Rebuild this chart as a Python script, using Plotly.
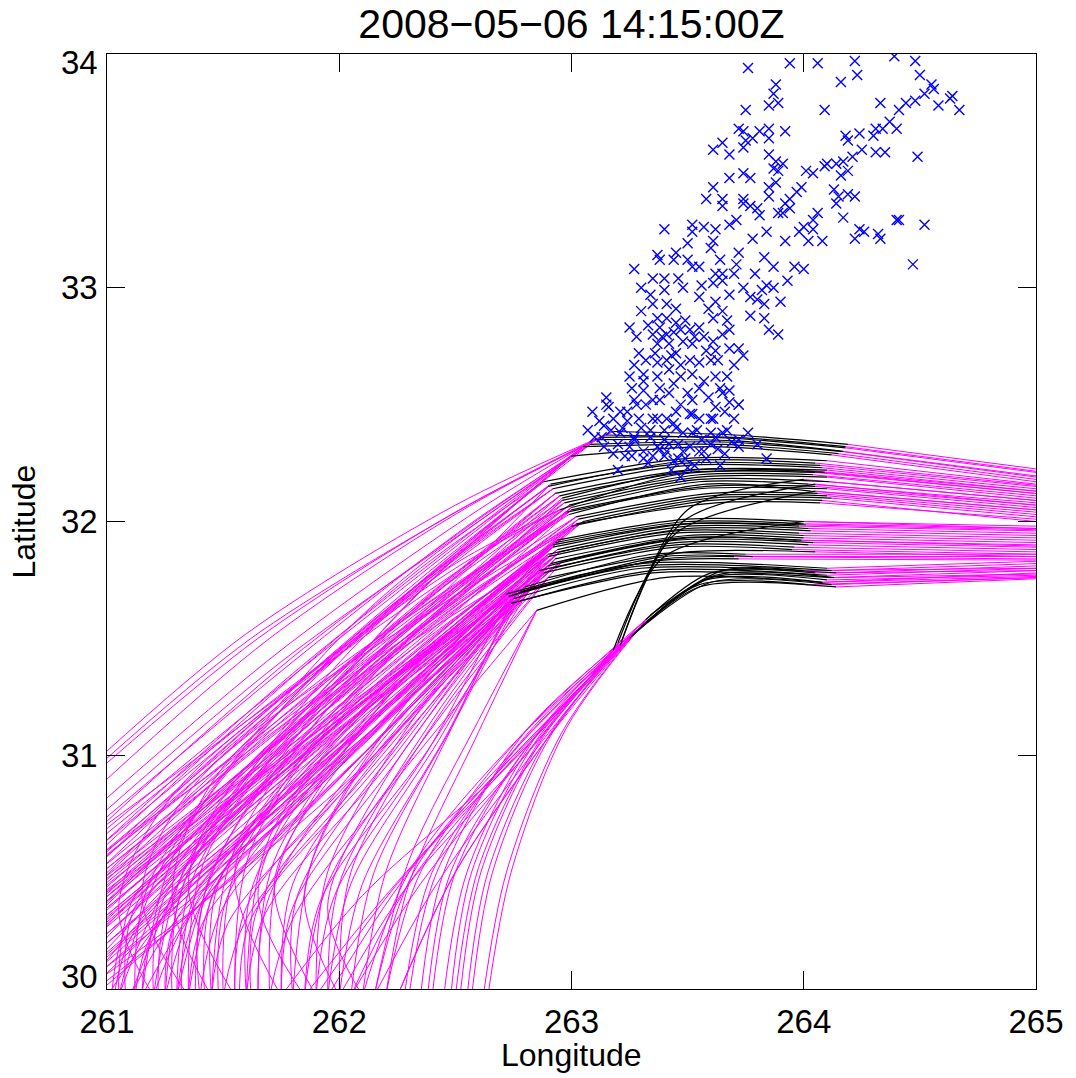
import plotly.graph_objects as go

title_text = "2008\u221205\u221206 14:15:00Z"
x_ticks = [261, 262, 263, 264, 265]
y_ticks = [30, 31, 32, 33, 34]

# Core part of each trajectory: black start, black middle, black end, exit at right edge
core_names = ["A1", "A2", "A3", "A4", "A5", "A6", "A7",
              "B1", "B2", "B3", "B4", "B5", "B6", "B7", "B8", "B9", "B10",
              "B11", "B12", "B13", "B14", "B15", "B16", "B17", "B18", "B19", "B20",
              "C1", "C2", "C3", "C4", "C5", "C6", "C7", "C8",
              "C9", "C10", "C11", "C12", "C13", "C14", "C15", "C16",
              "D1", "D2", "D3", "D4", "D5", "D6", "D7", "D8", "D9", "D10",
              "E1", "E2", "E3", "E4", "E5", "E6", "E7", "E8",
              "S1", "S2", "S3", "S4"]
core_lon = [
    [263.18, 263.70, 264.19, 265.0], [263.15, 263.70, 264.18, 265.0], [263.10, 263.70, 264.17, 265.0],
    [263.05, 263.65, 264.15, 265.0], [263.00, 263.60, 264.12, 265.0], [263.12, 263.70, 264.18, 265.0],
    [263.08, 263.65, 264.16, 265.0],
    [262.88, 263.50, 264.10, 265.0], [262.92, 263.50, 264.08, 265.0], [262.95, 263.50, 264.05, 265.0],
    [262.97, 263.55, 264.10, 265.0], [263.00, 263.55, 264.02, 265.0], [262.98, 263.55, 264.10, 265.0],
    [263.02, 263.60, 264.06, 265.0], [263.05, 263.60, 264.12, 265.0], [263.00, 263.60, 264.08, 265.0],
    [262.95, 263.45, 264.00, 265.0],
    [262.90, 263.50, 264.05, 265.0], [262.93, 263.50, 264.10, 265.0], [262.96, 263.55, 264.04, 265.0],
    [262.99, 263.55, 264.11, 265.0], [263.00, 263.58, 264.05, 265.0], [263.03, 263.60, 264.10, 265.0],
    [263.02, 263.62, 264.07, 265.0], [262.91, 263.50, 264.07, 265.0], [262.96, 263.52, 264.09, 265.0],
    [262.99, 263.58, 264.03, 265.0],
    [262.94, 263.50, 264.00, 265.0], [262.92, 263.50, 263.98, 265.0], [262.95, 263.50, 264.03, 265.0],
    [262.90, 263.45, 264.00, 265.0], [262.96, 263.50, 263.97, 265.0], [262.92, 263.45, 264.02, 265.0],
    [262.88, 263.45, 263.95, 265.0], [262.90, 263.50, 264.05, 265.0],
    [262.93, 263.50, 264.00, 265.0], [262.94, 263.50, 264.02, 265.0], [262.90, 263.45, 263.98, 265.0],
    [262.93, 263.50, 264.00, 265.0], [262.90, 263.45, 264.04, 265.0], [262.86, 263.45, 263.96, 265.0],
    [262.92, 263.48, 264.01, 265.0], [262.91, 263.47, 263.99, 265.0],
    [262.72, 263.30, 264.10, 265.0], [262.75, 263.30, 264.14, 265.0], [262.78, 263.40, 263.70, 265.0],
    [262.80, 263.35, 263.75, 265.0], [262.74, 263.35, 264.12, 265.0], [262.85, 263.40, 264.08, 265.0],
    [262.73, 263.30, 264.12, 265.0], [262.76, 263.35, 263.72, 265.0], [262.78, 263.35, 264.10, 265.0],
    [262.82, 263.40, 263.78, 265.0],
    [263.30, 263.60, 264.10, 265.0], [263.27, 263.60, 264.12, 265.0], [263.32, 263.60, 264.05, 265.0],
    [263.25, 263.55, 264.14, 265.0], [263.34, 263.65, 264.00, 265.0], [263.28, 263.58, 264.08, 265.0],
    [263.31, 263.62, 264.13, 265.0], [263.26, 263.55, 264.02, 265.0],
    [263.20, 263.45, 264.05, 265.0], [263.22, 263.50, 264.00, 265.0], [263.18, 263.40, 264.00, 265.0],
    [263.21, 263.48, 264.05, 265.0],
]
core_lat = [
    [32.385, 32.37, 32.33, 32.225], [32.37, 32.355, 32.315, 32.21], [32.35, 32.345, 32.30, 32.195],
    [32.32, 32.33, 32.29, 32.18], [32.28, 32.32, 32.285, 32.17], [32.36, 32.36, 32.32, 32.215],
    [32.33, 32.34, 32.30, 32.19],
    [32.17, 32.27, 32.26, 32.16], [32.14, 32.24, 32.23, 32.14], [32.11, 32.21, 32.21, 32.12],
    [32.08, 32.19, 32.19, 32.10], [32.06, 32.17, 32.16, 32.08], [32.04, 32.14, 32.14, 32.06],
    [32.02, 32.12, 32.12, 32.04], [32.00, 32.10, 32.10, 32.02], [31.98, 32.09, 32.09, 32.00],
    [32.05, 32.20, 32.22, 32.13],
    [32.15, 32.26, 32.25, 32.155], [32.12, 32.22, 32.22, 32.13], [32.09, 32.20, 32.20, 32.11],
    [32.07, 32.18, 32.17, 32.09], [32.05, 32.15, 32.15, 32.07], [32.01, 32.11, 32.11, 32.03],
    [31.99, 32.08, 32.08, 32.01], [32.16, 32.25, 32.24, 32.15], [32.10, 32.22, 32.21, 32.12],
    [32.03, 32.16, 32.13, 32.05],
    [31.92, 32.01, 32.00, 31.98], [31.89, 31.99, 31.98, 31.96], [31.87, 31.97, 31.96, 31.94],
    [31.85, 31.95, 31.94, 31.92], [31.83, 31.93, 31.92, 31.90], [31.80, 31.91, 31.90, 31.88],
    [31.78, 31.89, 31.88, 31.86], [31.76, 31.87, 31.87, 31.85],
    [31.91, 32.00, 31.99, 31.97], [31.88, 31.98, 31.97, 31.95], [31.86, 31.96, 31.95, 31.93],
    [31.84, 31.94, 31.93, 31.91], [31.81, 31.92, 31.91, 31.89], [31.79, 31.90, 31.89, 31.87],
    [31.90, 31.99, 31.985, 31.965], [31.82, 31.93, 31.92, 31.895],
    [31.69, 31.82, 31.80, 31.83], [31.67, 31.80, 31.78, 31.81], [31.70, 31.84, 31.85, 31.84],
    [31.72, 31.86, 31.86, 31.86], [31.65, 31.78, 31.76, 31.79], [31.62, 31.76, 31.74, 31.78],
    [31.68, 31.81, 31.79, 31.82], [31.69, 31.83, 31.84, 31.835], [31.66, 31.79, 31.77, 31.80],
    [31.71, 31.85, 31.85, 31.85],
    [31.55, 31.76, 31.75, 31.77], [31.52, 31.74, 31.73, 31.76], [31.58, 31.78, 31.78, 31.79],
    [31.50, 31.72, 31.72, 31.755], [31.60, 31.79, 31.79, 31.80], [31.53, 31.75, 31.74, 31.765],
    [31.56, 31.77, 31.76, 31.775], [31.51, 31.73, 31.73, 31.76],
    [31.48, 31.95, 32.13, 32.05], [31.50, 32.05, 32.18, 32.09], [31.45, 31.85, 32.00, 31.97],
    [31.47, 32.00, 32.16, 32.07],
]

# Western (earlier) part of each trajectory: entry, two intermediate points; joins its core
left_core = [
    "A1", "A1", "A2", "A3", "A3", "A4", "A4", "A5", "A5", "A6", "A6", "A7", "A7",
    "B1", "B1", "B2", "B2", "B3", "B3", "B4", "B4", "B5", "B5",
    "B6", "B6", "B7", "B7", "B8", "B8", "B9", "B9", "B10", "B10",
    "B11", "B11", "B12", "B12", "B13", "B13", "B14", "B14", "B15", "B15",
    "B16", "B16", "B17", "B17",
    "C1", "C1", "C1", "C2", "C2", "C2", "C3", "C3", "C3", "C4", "C4",
    "C5", "C5", "C6", "C6", "C7", "C7", "C8", "C8",
    "C9", "C9", "C10", "C10", "C11", "C11", "C12", "C12", "C13", "C13", "C14", "C14",
    "D1", "D1", "D2", "D2", "D3", "D3", "D4", "D4", "D5", "D5", "D6", "D6",
    "D7", "D7", "D8", "D8", "D9", "D9", "D10", "D10",
    "E1", "E1", "E1", "E2", "E2", "E2", "E3", "E3", "E3", "E4", "E4", "E5", "E5",
    "E6", "E6", "E7", "E7", "E8", "E8",
    "S1", "S2", "S3", "S4",
    "C4", "C6", "B9", "D3", "B13", "C12",
    "B1", "B3", "B5", "B7", "B11", "B12", "B14", "C1", "C3", "C9", "C10", "C13",
    "A5", "A7", "B10",
    "B2", "B6", "B8", "C2", "C5", "C7", "C8", "C11", "C14", "D1", "D5", "D9", "D2", "D6",
    "C4", "D7", "D4", "C6",
    "B15", "C9", "D10",
    "E4", "S2", "E8",
    "B18", "B19", "B20", "C15", "C16",
]
left_lon = [
    # A
    [260.98, 261.60, 262.50], [260.98, 261.65, 262.50], [260.98, 261.70, 262.55],
    [260.98, 261.75, 262.60], [260.98, 261.80, 262.60], [260.98, 261.80, 262.60],
    [260.98, 261.60, 262.40], [260.98, 261.85, 262.55], [261.30, 261.50, 262.20],
    [260.98, 261.62, 262.52], [260.98, 261.90, 262.60], [260.98, 261.75, 262.60],
    [261.15, 261.30, 262.10],
    # B1-B10
    [260.98, 261.70, 262.35], [260.98, 261.65, 262.30], [260.98, 261.70, 262.40],
    [261.05, 261.25, 262.00], [260.98, 261.70, 262.40], [260.98, 261.60, 262.30],
    [260.98, 261.75, 262.45], [261.20, 261.35, 262.05], [260.98, 261.75, 262.45],
    [260.98, 261.60, 262.30], [260.98, 261.80, 262.50], [261.45, 261.55, 262.15],
    [260.98, 261.70, 262.45], [260.98, 261.90, 262.55], [260.98, 261.75, 262.50],
    [261.60, 261.70, 262.30], [260.98, 261.80, 262.50], [261.10, 261.45, 262.25],
    [260.98, 261.80, 262.50], [260.98, 261.55, 262.25],
    # B11-B17
    [260.98, 261.75, 262.40], [261.25, 261.35, 262.05], [260.98, 261.70, 262.40],
    [261.35, 261.42, 262.10], [260.98, 261.75, 262.45], [260.98, 261.50, 262.25],
    [260.98, 261.70, 262.40], [261.55, 261.62, 262.20], [260.98, 261.75, 262.45],
    [261.05, 261.35, 262.20], [260.98, 261.80, 262.50], [260.98, 261.85, 262.55],
    [260.98, 261.75, 262.50], [261.65, 261.72, 262.30],
    # C1-C8
    [260.98, 261.70, 262.40], [261.50, 261.55, 262.10], [260.98, 261.50, 262.20],
    [260.98, 261.70, 262.40], [261.70, 261.75, 262.25], [261.25, 261.40, 262.00],
    [260.98, 261.70, 262.45], [261.80, 261.90, 262.35], [261.35, 261.50, 262.10],
    [260.98, 261.60, 262.30], [261.90, 261.95, 262.35],
    [261.00, 261.40, 262.20], [262.00, 262.05, 262.45], [261.15, 261.45, 262.20],
    [261.65, 261.70, 262.20], [261.75, 261.80, 262.25], [260.98, 261.50, 262.20],
    [261.55, 261.60, 262.15], [261.85, 261.95, 262.35],
    # C9-C14
    [260.98, 261.70, 262.40], [261.45, 261.48, 262.05], [260.98, 261.70, 262.42],
    [261.60, 261.63, 262.15], [260.98, 261.65, 262.35], [261.20, 261.25, 261.90],
    [260.98, 261.60, 262.30], [261.95, 262.00, 262.40], [261.05, 261.12, 261.85],
    [261.80, 261.82, 262.30], [261.40, 261.42, 262.00], [260.98, 261.45, 262.15],
    # D
    [260.98, 261.60, 262.20], [261.30, 261.40, 262.00], [261.40, 261.50, 262.05],
    [262.10, 262.20, 262.50], [261.95, 262.05, 262.45], [261.10, 261.30, 261.95],
    [261.20, 261.35, 262.00], [262.05, 262.15, 262.50], [261.50, 261.60, 262.10],
    [260.98, 261.45, 262.10], [262.15, 262.30, 262.60], [261.70, 261.80, 262.25],
    [261.25, 261.30, 261.95], [261.90, 261.98, 262.40], [261.60, 261.68, 262.20],
    [262.00, 262.10, 262.48], [261.45, 261.52, 262.05], [261.15, 261.22, 261.90],
    [261.85, 261.92, 262.38], [261.35, 261.42, 262.00],
    # E
    [262.57, 262.66, 262.92], [262.35, 262.45, 262.80], [262.10, 262.30, 262.75],
    [262.52, 262.61, 262.88], [262.28, 262.40, 262.78], [261.95, 262.30, 262.80],
    [262.62, 262.72, 262.96], [262.45, 262.55, 262.86], [262.20, 262.35, 262.78],
    [262.40, 262.50, 262.82], [261.85, 262.20, 262.75],
    [262.64, 262.74, 262.98], [262.50, 262.60, 262.90],
    [262.55, 262.64, 262.90], [262.15, 262.32, 262.78], [262.48, 262.57, 262.86],
    [262.30, 262.42, 262.80], [262.38, 262.48, 262.82], [262.05, 262.30, 262.78],
    # S
    [262.00, 262.30, 262.82], [262.25, 262.50, 262.88], [261.75, 262.10, 262.75],
    [262.15, 262.42, 262.85],
    # hooked paths from the south
    [261.55, 261.35, 261.60], [261.75, 261.55, 261.85], [261.35, 261.15, 261.40],
    [261.90, 261.72, 262.00], [261.20, 261.05, 261.30], [262.00, 261.85, 262.10],
    # additional paths
    [260.98, 261.72, 262.38], [260.98, 261.72, 262.42], [260.98, 261.80, 262.50],
    [260.98, 261.78, 262.48], [260.98, 261.65, 262.35], [260.98, 261.80, 262.45],
    [260.98, 261.75, 262.42], [260.98, 261.75, 262.45], [260.98, 261.70, 262.42],
    [260.98, 261.80, 262.50], [260.98, 261.75, 262.45], [260.98, 261.70, 262.40],
    [260.98, 261.85, 262.55], [260.98, 261.80, 262.55], [260.98, 261.85, 262.50],
    [261.12, 261.18, 261.90], [261.28, 261.33, 262.00], [261.38, 261.45, 262.10],
    [261.08, 261.12, 261.80], [261.22, 261.28, 261.95], [261.32, 261.38, 262.00],
    [261.02, 261.10, 261.80], [261.48, 261.52, 262.05], [261.62, 261.65, 262.15],
    [261.12, 261.20, 261.85], [261.03, 261.12, 261.80], [261.57, 261.62, 262.12],
    [261.75, 261.80, 262.25], [262.20, 262.30, 262.60],
    [260.98, 261.55, 262.30], [260.98, 261.55, 262.20], [260.98, 261.50, 262.15],
    [260.98, 261.55, 262.25],
    [261.45, 261.28, 261.50], [261.85, 261.65, 261.90], [262.10, 261.95, 262.20],
    [261.90, 262.25, 262.75], [262.05, 262.35, 262.80], [262.25, 262.50, 262.88],
    [260.98, 261.70, 262.38], [260.98, 261.72, 262.42], [261.30, 261.38, 262.08],
    [260.98, 261.72, 262.42], [261.42, 261.46, 262.02],
]
left_lat = [
    # A
    [31.00, 31.52, 32.07], [30.95, 31.50, 32.04], [30.88, 31.50, 32.06],
    [30.80, 31.45, 32.05], [30.70, 31.42, 32.01], [30.62, 31.35, 31.98],
    [30.25, 30.90, 31.75], [30.55, 31.30, 31.90], [29.97, 30.60, 31.55],
    [30.97, 31.50, 32.05], [30.58, 31.35, 31.95], [30.75, 31.40, 32.00],
    [29.97, 30.60, 31.60],
    # B1-B10
    [30.60, 31.25, 31.80], [30.48, 31.10, 31.70], [30.52, 31.18, 31.75],
    [29.97, 30.55, 31.45], [30.45, 31.10, 31.70], [30.35, 30.95, 31.60],
    [30.42, 31.08, 31.66], [29.97, 30.55, 31.40], [30.38, 31.03, 31.62],
    [30.15, 30.80, 31.50], [30.50, 31.15, 31.70], [29.97, 30.60, 31.42],
    [30.32, 30.95, 31.58], [30.58, 31.25, 31.72], [30.28, 30.95, 31.55],
    [29.97, 30.65, 31.40], [30.40, 31.02, 31.58], [29.97, 30.70, 31.45],
    [30.65, 31.30, 31.80], [30.20, 30.80, 31.52],
    # B11-B17
    [30.62, 31.25, 31.78], [29.97, 30.50, 31.45], [30.47, 31.12, 31.69],
    [29.97, 30.55, 31.42], [30.44, 31.07, 31.64], [30.10, 30.70, 31.45],
    [30.36, 31.00, 31.60], [29.97, 30.60, 31.40], [30.33, 30.98, 31.57],
    [29.97, 30.60, 31.42], [30.30, 30.98, 31.55], [30.52, 31.20, 31.68],
    [30.26, 30.92, 31.50], [29.97, 30.55, 31.35],
    # C1-C8
    [30.30, 30.90, 31.50], [29.97, 30.50, 31.30], [30.05, 30.55, 31.30],
    [30.25, 30.85, 31.45], [29.97, 30.55, 31.30], [29.97, 30.40, 31.10],
    [30.18, 30.80, 31.42], [29.97, 30.60, 31.30], [29.97, 30.50, 31.15],
    [30.10, 30.65, 31.30], [29.97, 30.50, 31.20],
    [29.97, 30.50, 31.20], [29.97, 30.50, 31.20], [29.97, 30.45, 31.15],
    [29.97, 30.40, 31.10], [29.97, 30.45, 31.10], [30.00, 30.45, 31.10],
    [29.97, 30.35, 31.00], [29.97, 30.45, 31.05],
    # C9-C14
    [30.27, 30.88, 31.48], [29.97, 30.45, 31.20], [30.22, 30.83, 31.43],
    [29.97, 30.45, 31.20], [30.14, 30.72, 31.35], [29.97, 30.40, 31.05],
    [30.08, 30.62, 31.25], [29.97, 30.45, 31.15], [29.97, 30.40, 31.00],
    [29.97, 30.40, 31.10], [29.97, 30.38, 31.00], [30.02, 30.40, 31.05],
    # D
    [30.12, 30.65, 31.20], [29.97, 30.35, 30.95], [29.97, 30.35, 30.95],
    [29.97, 30.50, 31.15], [29.97, 30.45, 31.10], [29.97, 30.30, 30.90],
    [29.97, 30.30, 30.95], [29.97, 30.50, 31.15], [29.97, 30.30, 30.90],
    [30.05, 30.40, 30.95], [29.97, 30.55, 31.15], [29.97, 30.30, 30.90],
    [29.97, 30.30, 30.92], [29.97, 30.40, 31.05], [29.97, 30.32, 30.95],
    [29.97, 30.45, 31.12], [29.97, 30.28, 30.88], [29.97, 30.30, 30.90],
    [29.97, 30.38, 31.02], [29.97, 30.30, 30.90],
    # E
    [29.97, 30.50, 31.10], [29.97, 30.50, 31.10], [29.97, 30.50, 31.05],
    [29.97, 30.50, 31.08], [29.97, 30.50, 31.05], [29.97, 30.50, 31.05],
    [29.97, 30.50, 31.10], [29.97, 30.50, 31.10], [29.97, 30.50, 31.08],
    [29.97, 30.50, 31.05], [29.97, 30.40, 31.00],
    [29.97, 30.50, 31.12], [29.97, 30.52, 31.12],
    [29.97, 30.50, 31.08], [29.97, 30.50, 31.05], [29.97, 30.50, 31.08],
    [29.97, 30.50, 31.08], [29.97, 30.50, 31.05], [29.97, 30.45, 31.02],
    # S
    [29.97, 30.45, 31.02], [29.97, 30.50, 31.05], [29.97, 30.40, 30.98],
    [29.97, 30.45, 31.03],
    # hooked paths from the south
    [29.97, 30.45, 30.95], [29.97, 30.50, 31.00], [29.97, 30.40, 30.90],
    [29.97, 30.45, 30.95], [29.97, 30.35, 30.85], [29.97, 30.40, 30.95],
    # additional paths
    [30.57, 31.22, 31.78], [30.40, 31.05, 31.65], [30.47, 31.10, 31.66],
    [30.43, 31.06, 31.62], [30.34, 30.98, 31.60], [30.56, 31.20, 31.72],
    [30.50, 31.12, 31.66], [30.38, 30.98, 31.52], [30.33, 30.92, 31.47],
    [30.46, 31.05, 31.55], [30.41, 30.99, 31.50], [30.36, 30.93, 31.45],
    [30.67, 31.38, 31.93], [30.72, 31.40, 31.98], [30.69, 31.33, 31.82],
    [29.97, 30.45, 31.35], [29.97, 30.45, 31.35], [29.97, 30.50, 31.35],
    [29.97, 30.35, 31.05], [29.97, 30.40, 31.10], [29.97, 30.40, 31.05],
    [29.97, 30.30, 30.95], [29.97, 30.40, 31.05], [29.97, 30.35, 31.00],
    [29.97, 30.25, 30.88], [29.97, 30.25, 30.85], [29.97, 30.30, 30.90],
    [29.97, 30.35, 30.98], [29.97, 30.45, 31.10],
    [30.22, 30.72, 31.35], [30.18, 30.65, 31.20], [30.08, 30.50, 31.10],
    [30.13, 30.62, 31.20],
    [29.97, 30.40, 30.95], [29.97, 30.40, 30.95], [29.97, 30.35, 30.90],
    [29.97, 30.45, 30.98], [29.97, 30.45, 31.00], [29.97, 30.50, 31.05],
    [30.55, 31.20, 31.76], [30.39, 31.04, 31.64], [29.97, 30.50, 31.40],
    [30.29, 30.90, 31.48], [29.97, 30.42, 31.10],
]

# Storm observations (blue crosses)
obs_lon = [
    263.76, 263.94, 264.06, 264.22, 264.39, 264.48, 264.23, 264.50, 264.16, 263.88,
    263.87, 263.85, 263.89, 263.75, 264.09, 264.33, 264.55, 264.56, 264.52, 264.48,
    264.44, 264.41, 264.58, 264.64, 264.67, 264.63, 264.40, 264.37, 264.31, 264.34,
    264.30, 264.24, 264.18, 264.19, 264.49, 264.31, 264.35, 264.25, 264.21, 264.17,
    264.14, 264.10, 264.09, 264.16, 264.19, 264.04, 264.01, 263.99, 263.97, 263.94,
    263.92, 263.91, 263.89, 263.85, 263.94, 264.13, 264.15, 264.19, 264.22, 264.14,
    264.17, 264.06, 264.04, 264.00, 263.98, 264.02, 264.08, 264.04, 263.92, 263.84,
    263.81, 263.77, 263.74, 263.74, 263.80, 263.85, 263.88, 263.87, 263.89, 263.88,
    263.85, 263.91, 263.77, 263.74, 263.68, 263.61, 263.58, 263.65, 263.65, 263.74,
    263.72, 263.81, 263.85, 263.85, 263.92, 263.78, 263.75, 263.74, 263.68, 263.65,
    263.61, 264.24, 264.22, 264.26, 264.32, 264.33, 264.41, 264.52, 264.47, 264.40,
    263.71, 263.68, 263.62, 263.57, 263.52, 263.52, 263.40, 263.61, 263.60, 263.50,
    263.45, 263.44, 263.37, 263.38, 263.50, 263.52, 263.55, 263.27, 263.35, 263.40,
    263.46, 263.48, 263.40, 263.64, 263.72, 263.78, 263.83, 263.87, 263.96, 264.00,
    263.65, 263.70, 263.61, 263.65, 263.68, 263.62, 263.55, 263.74, 263.77, 263.80,
    263.84, 263.87, 263.83, 263.90, 263.77, 263.83, 263.85, 263.89, 263.30, 263.35,
    263.41, 263.45, 263.59, 263.61, 263.65, 263.67, 263.68, 263.37, 263.41, 263.45,
    263.38, 263.35, 263.41, 263.47, 263.51, 263.55, 263.57, 263.61, 263.65, 263.28,
    263.29, 263.37, 263.42, 263.48, 263.52, 263.62, 263.68, 263.72, 263.70, 263.74,
    263.27, 263.32, 263.37, 263.41, 263.45, 263.51, 263.55, 263.60, 263.25, 263.31,
    263.37, 263.42, 263.47, 263.52, 263.57, 263.26, 263.31, 263.38, 263.42, 263.62,
    263.67, 263.64, 263.68, 263.65, 263.50, 263.52, 263.47, 263.62, 263.72, 263.15,
    263.16, 263.21, 263.27, 263.32, 263.38, 263.12, 263.18, 263.24, 263.29, 263.35,
    263.41, 263.45, 263.52, 263.61, 263.07, 263.17, 263.21, 263.27, 263.34, 263.40,
    263.45, 263.48, 263.54, 263.60, 263.65, 263.72, 263.20, 263.25, 263.31, 263.37,
    263.42, 263.51, 263.55, 263.18, 263.84, 263.15, 263.20, 263.28, 263.31, 263.37,
    263.41, 263.44, 263.47, 263.50, 263.52, 263.57, 263.60, 263.62, 263.64, 263.67,
    263.68, 263.72, 263.72, 263.60, 263.51, 263.44, 263.22, 263.27, 263.34, 263.40,
    263.48, 263.13, 263.23, 263.35, 263.46, 263.56, 263.66, 263.30, 263.55, 263.09,
    263.14, 263.33, 263.39, 263.44, 263.49, 263.53, 263.43, 263.47, 263.36, 263.58,
    263.63, 263.31, 263.44, 263.55, 263.35, 263.59, 263.66, 263.70, 263.24, 263.14,
    263.10, 263.38, 263.46, 263.53, 263.58, 263.43, 263.49, 263.63, 263.69, 263.76,
    263.80, 263.26, 263.33, 263.40, 263.30, 263.34, 263.25, 263.56, 263.62, 263.71,
    263.79, 263.82, 263.93,
]
obs_lat = [
    33.94, 33.96, 33.96, 33.97, 33.99, 33.97, 33.91, 33.91, 33.88, 33.87,
    33.83, 33.78, 33.79, 33.76, 33.76, 33.79, 33.87, 33.85, 33.83, 33.80,
    33.79, 33.76, 33.78, 33.82, 33.76, 33.81, 33.68, 33.71, 33.68, 33.68,
    33.65, 33.66, 33.65, 33.63, 33.56, 33.58, 33.58, 33.59, 33.56, 33.54,
    33.53, 33.53, 33.52, 33.48, 33.50, 33.49, 33.50, 33.43, 33.41, 33.38,
    33.36, 33.32, 33.32, 33.39, 33.34, 33.42, 33.39, 33.40, 33.39, 33.36,
    33.30, 33.32, 33.29, 33.26, 33.24, 33.20, 33.20, 33.25, 33.20, 33.24,
    33.31, 33.35, 33.38, 33.36, 33.34, 33.43, 33.45, 33.51, 33.50, 33.54,
    33.57, 33.53, 33.47, 33.49, 33.47, 33.43, 33.38, 33.38, 33.35, 33.67,
    33.68, 33.67, 33.68, 33.64, 33.67, 33.64, 33.63, 33.60, 33.57, 33.62,
    33.59, 33.25, 33.21, 33.24, 33.23, 33.21, 33.29, 33.27, 33.10, 33.29,
    33.29, 33.27, 33.25, 33.26, 33.24, 33.27, 33.25, 33.20, 33.17, 33.19,
    33.15, 33.12, 33.14, 33.12, 33.12, 33.09, 33.09, 33.08, 33.04, 33.04,
    33.04, 33.00, 32.99, 33.12, 33.15, 33.21, 33.13, 33.09, 33.09, 33.08,
    33.06, 33.06, 33.02, 33.03, 32.97, 32.94, 32.96, 33.00, 32.96, 32.95,
    33.01, 33.00, 32.93, 32.94, 32.88, 32.87, 32.82, 32.80, 32.90, 32.93,
    32.93, 32.91, 32.91, 32.87, 32.90, 32.86, 32.82, 32.87, 32.87, 32.85,
    32.83, 32.80, 32.80, 32.82, 32.82, 32.83, 32.79, 32.77, 32.80, 32.79,
    32.72, 32.76, 32.76, 32.77, 32.76, 32.73, 32.74, 32.74, 32.67, 32.71,
    32.67, 32.69, 32.68, 32.69, 32.72, 32.69, 32.68, 32.69, 32.62, 32.63,
    32.62, 32.65, 32.62, 32.63, 32.60, 32.57, 32.56, 32.57, 32.55, 32.62,
    32.62, 32.57, 32.56, 32.55, 32.55, 32.52, 32.50, 32.49, 32.50, 32.53,
    32.49, 32.47, 32.52, 32.50, 32.52, 32.43, 32.44, 32.43, 32.44, 32.44,
    32.44, 32.47, 32.46, 32.44, 32.39, 32.39, 32.38, 32.36, 32.39, 32.39,
    32.40, 32.38, 32.39, 32.38, 32.38, 32.35, 32.33, 32.32, 32.30, 32.32,
    32.33, 32.32, 32.30, 32.29, 32.27, 32.50, 32.22, 32.50, 32.27, 32.44,
    32.30, 32.26, 32.19, 32.23, 32.38, 32.30, 32.33, 32.36, 32.24, 32.39,
    32.51, 32.50, 32.32, 32.44, 32.46, 32.42, 32.40, 32.35, 32.36, 32.35,
    32.30, 32.36, 32.28, 32.28, 32.33, 32.35, 32.29, 32.40, 32.44, 32.47,
    32.32, 32.84, 32.79, 32.81, 32.86, 32.79, 32.71, 32.67, 32.72, 32.73,
    32.69, 32.60, 32.59, 32.57, 32.52, 32.53, 32.47, 32.44, 32.47, 32.41,
    32.36, 32.31, 32.27, 32.24, 32.27, 32.22, 32.27, 32.31, 32.34, 32.38,
    32.33, 32.28, 32.25, 32.28, 33.00, 32.97, 32.83, 33.01, 33.06, 33.10,
    33.06, 32.99, 33.03,
]

MAGENTA = "#FF00FF"

core_index = {name: i for i, name in enumerate(core_names)}

mag_x, mag_y, blk_x, blk_y = [], [], [], []
for name, lons, lats in zip(left_core, left_lon, left_lat):
    c = core_index[name]
    mag_x += lons + [core_lon[c][0], None]
    mag_y += lats + [core_lat[c][0], None]
for lons, lats in zip(core_lon, core_lat):
    mag_x += [lons[2], lons[3], None]
    mag_y += [lats[2], lats[3], None]
    blk_x += lons[0:3] + [None]
    blk_y += lats[0:3] + [None]

fig = go.Figure()
fig.add_trace(go.Scatter(x=mag_x, y=mag_y, mode="lines",
                         line=dict(color=MAGENTA, width=1, shape="spline", smoothing=0.9),
                         connectgaps=False, hoverinfo="skip", showlegend=False))
fig.add_trace(go.Scatter(x=blk_x, y=blk_y, mode="lines",
                         line=dict(color="black", width=1.2, shape="spline", smoothing=0.8),
                         connectgaps=False, hoverinfo="skip", showlegend=False))
fig.add_trace(go.Scatter(x=obs_lon, y=obs_lat, mode="markers",
                         marker=dict(symbol="x-thin", size=10,
                                     line=dict(color="#0000FF", width=1.4), color="#0000FF"),
                         hoverinfo="skip", showlegend=False))

FONT = "Liberation Sans, Arial, Helvetica, sans-serif"

fig.update_layout(
    width=1076, height=1078,
    margin=dict(l=107, r=35, t=54, b=89),
    paper_bgcolor="white", plot_bgcolor="white",
    font=dict(family=FONT, color="black"),
    title=dict(text=title_text, x=0.5, xref="paper", xanchor="center",
               y=1 - 24 / 1078, yref="container", yanchor="middle",
               font=dict(size=41, family=FONT, color="black")),
    showlegend=False,
)
fig.update_xaxes(range=[261, 265], tickvals=x_ticks, ticktext=[str(v) for v in x_ticks],
                 ticks="inside", ticklen=18, tickwidth=1, tickcolor="black",
                 showline=True, linecolor="black", linewidth=1, mirror="ticks",
                 showgrid=False, zeroline=False,
                 tickfont=dict(size=33, family=FONT, color="black"),
                 ticklabelstandoff=3)
fig.update_yaxes(range=[30, 34], tickvals=y_ticks,
                 ticks="inside", ticklen=18, tickwidth=1, tickcolor="black",
                 showline=True, linecolor="black", linewidth=1, mirror="ticks",
                 showgrid=False, zeroline=False, showticklabels=False)

for v in y_ticks:
    if v == y_ticks[-1]:
        anchor, shift = "top", 12
    elif v == y_ticks[0]:
        anchor, shift = "bottom", -8
    else:
        anchor, shift = "middle", 0
    fig.add_annotation(x=0, xref="paper", y=v, yref="y", text=str(v), showarrow=False,
                       xanchor="right", yanchor=anchor, xshift=-7, yshift=shift,
                       font=dict(size=33, family=FONT, color="black"))

fig.add_annotation(x=0.5, xref="paper", y=0, yref="paper", yshift=-66, text="Longitude",
                   showarrow=False, xanchor="center", yanchor="middle",
                   font=dict(size=32, family=FONT, color="black"))
fig.add_annotation(x=0, xref="paper", y=0.5, yref="paper", xshift=-84, text="Latitude",
                   showarrow=False, xanchor="center", yanchor="middle", textangle=-90,
                   font=dict(size=32, family=FONT, color="black"))

fig.write_html("out.html", config={"displayModeBar": False},
               post_script="document.body.style.margin='0px';")
